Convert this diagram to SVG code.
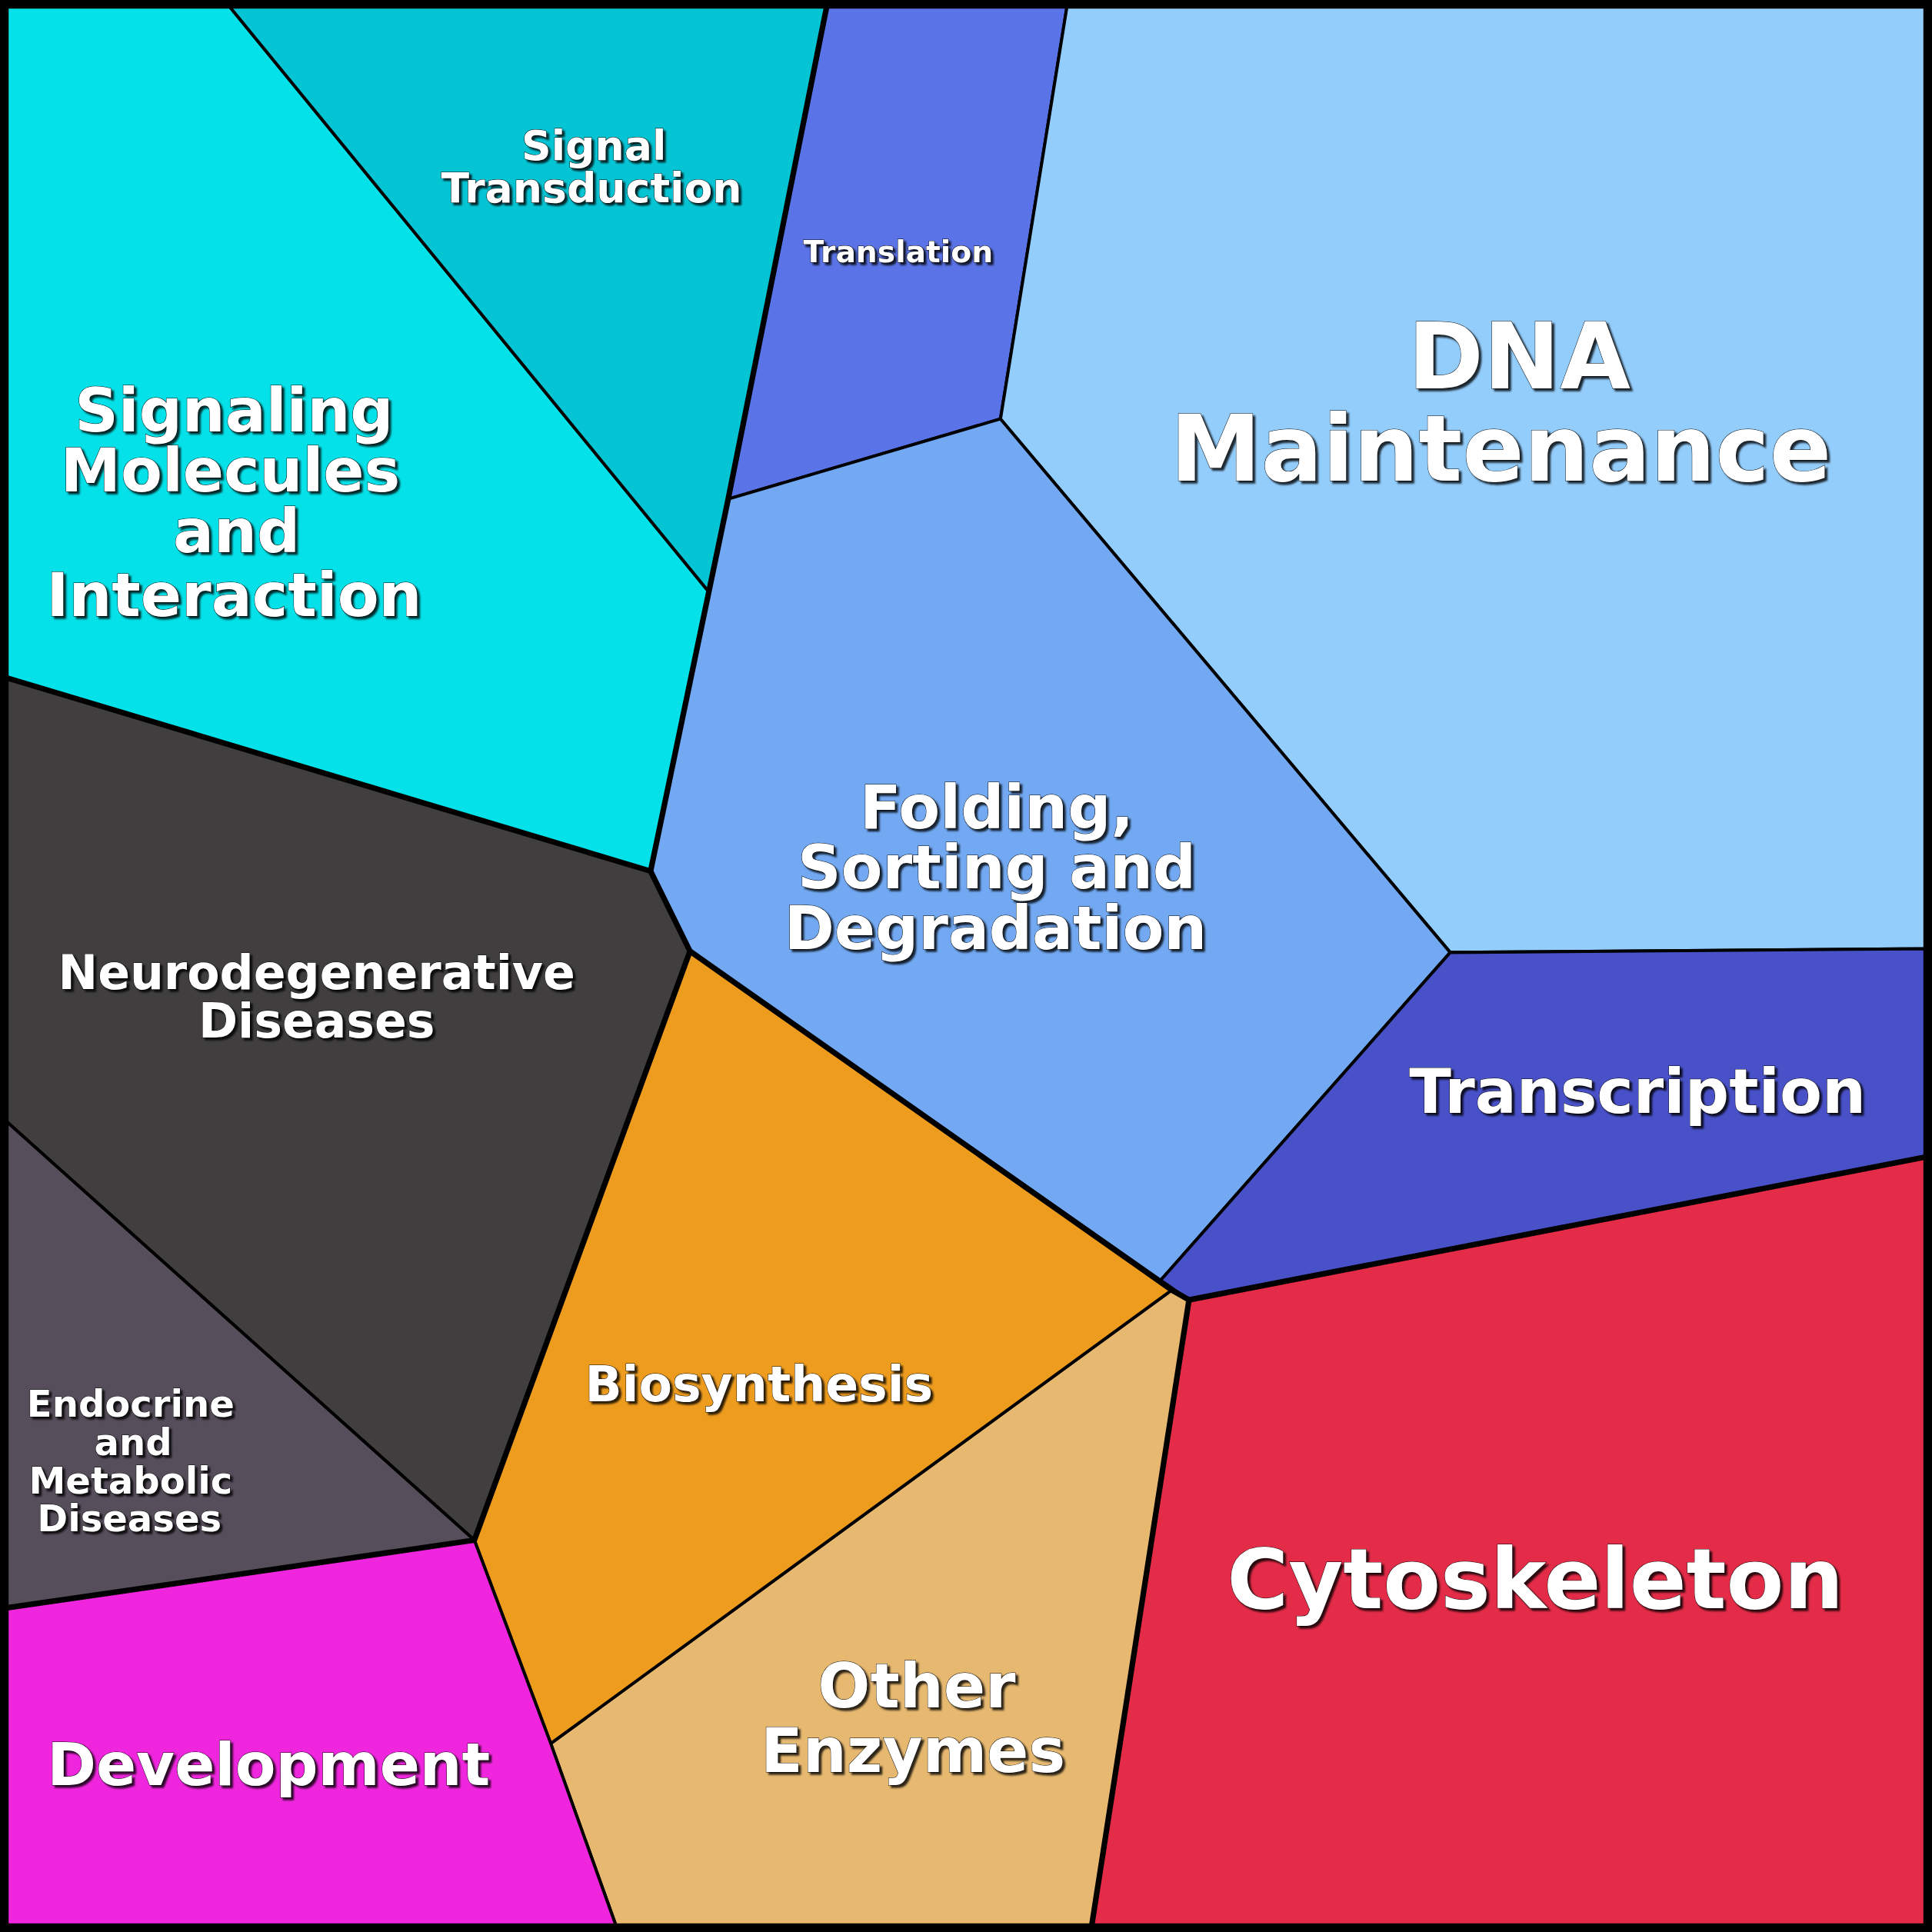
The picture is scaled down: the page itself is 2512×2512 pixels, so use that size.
<svg xmlns="http://www.w3.org/2000/svg" width="2512" height="2512" viewBox="0 0 2512 2512">
<style>
.c{stroke:#000;stroke-width:2.5;stroke-linejoin:round}
.t{font-family:"DejaVu Sans",sans-serif;font-weight:bold;fill:#fff;text-anchor:middle;stroke:#000;stroke-width:0.6;paint-order:stroke}
</style>
<defs><filter id="sh"><feDropShadow dx="2" dy="2" stdDeviation="0.5" flood-color="#000" flood-opacity="0.8"/></filter></defs>
<g transform="scale(1.60204)">
<g id="signaling-molecules"><polygon class="c" fill="#04e1e8" points="5,5 186,5 575,480 528,707 5,550"/>
<text class="t" filter="url(#sh)" font-size="49" x="190" y="350">Signaling</text><text class="t" filter="url(#sh)" font-size="49" x="187" y="399">Molecules</text><text class="t" filter="url(#sh)" font-size="49" x="192" y="448">and</text><text class="t" filter="url(#sh)" font-size="49" x="190" y="500">Interaction</text></g>
<g id="signal-transduction"><polygon class="c" fill="#05c5d5" points="186,5 671,5 591,405 575,480"/>
<text class="t" filter="url(#sh)" font-size="33.5" x="482" y="130">Signal</text><text class="t" filter="url(#sh)" font-size="33.5" x="480" y="164">Transduction</text></g>
<g id="translation"><polygon class="c" fill="#5a73e6" points="671,5 866,5 812,340 591,405"/>
<text class="t" filter="url(#sh)" font-size="24.5" x="729" y="213">Translation</text></g>
<g id="dna-maintenance"><polygon class="c" fill="#93cdfc" points="866,5 1563,5 1563,770 1177,773 812,340"/>
<text class="t" filter="url(#sh)" font-size="74" x="1233" y="315">DNA</text><text class="t" filter="url(#sh)" font-size="74" x="1218" y="390">Maintenance</text></g>
<g id="folding"><polygon class="c" fill="#72a9f2" points="591,405 812,340 1177,773 942,1039 560,772 528,707 575,480"/>
<text class="t" filter="url(#sh)" font-size="49" x="809" y="672">Folding,</text><text class="t" filter="url(#sh)" font-size="49" x="809" y="721">Sorting and</text><text class="t" filter="url(#sh)" font-size="49" x="808" y="770">Degradation</text></g>
<g id="transcription"><polygon class="c" fill="#4951c9" points="1177,773 1563,770 1563,939 965,1055 942,1039"/>
<text class="t" filter="url(#sh)" font-size="50" x="1329" y="903">Transcription</text></g>
<g id="cytoskeleton"><polygon class="c" fill="#e42c48" points="965,1055 1563,939 1563,1563 886,1563"/>
<text class="t" filter="url(#sh)" font-size="68" x="1246" y="1305">Cytoskeleton</text></g>
<g id="other-enzymes"><polygon class="c" fill="#e6b870" points="447,1415 951,1047 965,1055 886,1563 500,1563"/>
<text class="t" filter="url(#sh)" font-size="50" x="744" y="1386">Other</text><text class="t" filter="url(#sh)" font-size="50" x="741" y="1438">Enzymes</text></g>
<g id="biosynthesis"><polygon class="c" fill="#ee9c1e" points="560,772 951,1047 447,1415 385,1250"/>
<text class="t" filter="url(#sh)" font-size="39.5" x="616" y="1137">Biosynthesis</text></g>
<g id="neurodegenerative"><polygon class="c" fill="#403e3e" points="5,550 528,707 560,772 385,1250 5,910"/>
<text class="t" filter="url(#sh)" font-size="38.5" x="257" y="803">Neurodegenerative</text><text class="t" filter="url(#sh)" font-size="38.5" x="257" y="842">Diseases</text></g>
<g id="endocrine"><polygon class="c" fill="#574e5c" points="5,910 385,1250 5,1305"/>
<text class="t" filter="url(#sh)" font-size="30" x="106" y="1150">Endocrine</text><text class="t" filter="url(#sh)" font-size="30" x="108" y="1181">and</text><text class="t" filter="url(#sh)" font-size="30" x="106" y="1212">Metabolic</text><text class="t" filter="url(#sh)" font-size="30" x="105" y="1243">Diseases</text></g>
<g id="development"><polygon class="c" fill="#f026de" points="5,1305 385,1250 447,1415 500,1563 5,1563"/>
<text class="t" filter="url(#sh)" font-size="48" x="218" y="1449">Development</text></g>
<g id="connectors" fill="none" stroke="#000" stroke-width="4.5" stroke-linejoin="round">
<polyline points="671,5 591,405 528,707"/>
<polyline points="5,550 528,707 560,772 385,1250 5,1305"/>
<polyline points="560,772 951,1047 965,1055 1563,939"/>
<polyline points="965,1055 886,1563"/>
</g>
<rect x="3.5" y="3.5" width="1561" height="1561" fill="none" stroke="#000" stroke-width="7"/>
</g>
</svg>
